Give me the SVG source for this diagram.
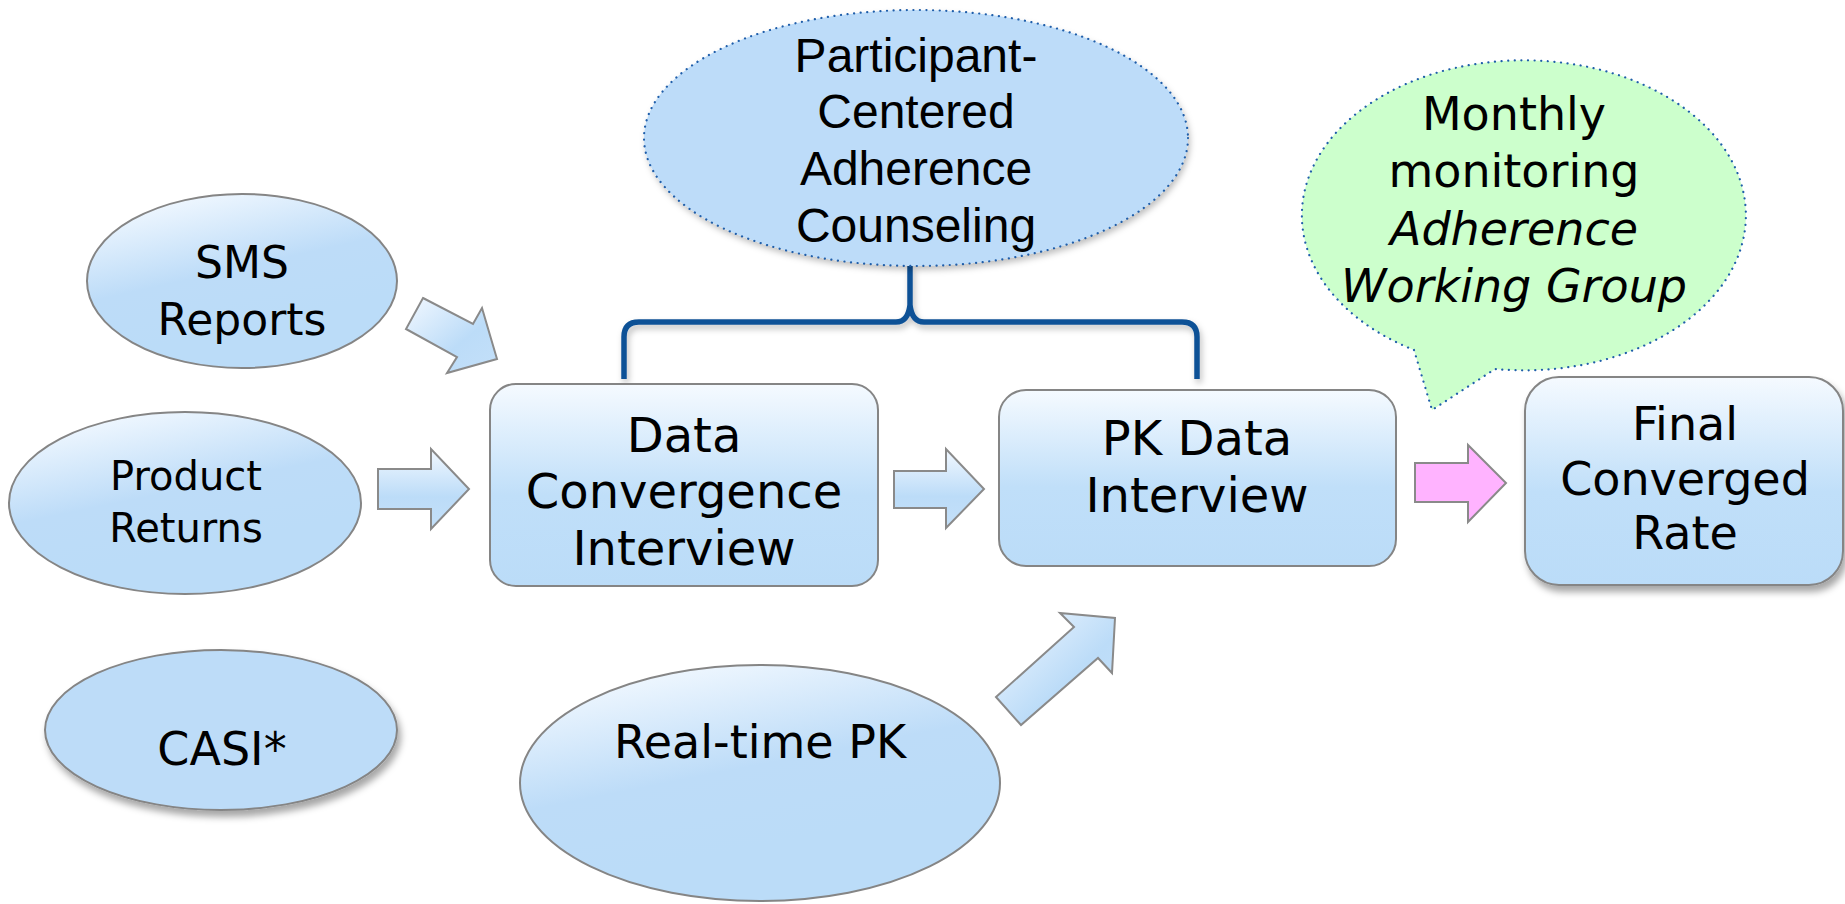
<svg xmlns="http://www.w3.org/2000/svg" width="1845" height="904" viewBox="0 0 1845 904">
  <style>
    .node { stroke: #858585; stroke-width: 2; }
    .lbl { font-family: "DejaVu Sans", "Liberation Sans", sans-serif; fill: #000; text-anchor: middle; }
    .arial { font-family: "Liberation Sans", Arial, sans-serif; fill: #000; text-anchor: middle; }
    .arrow { stroke: #8a8a8a; stroke-width: 2; stroke-linejoin: miter; }
    .dotted { stroke: #1f5eaa; stroke-width: 2.2; stroke-dasharray: 0.1 6.5; stroke-linecap: round; }
  </style>
  <defs>
    <linearGradient id="gBox" x1="0" y1="0" x2="0" y2="1">
      <stop offset="0" stop-color="#f5faff"/>
      <stop offset="0.55" stop-color="#c0dff9"/>
      <stop offset="1" stop-color="#bbdcf8"/>
    </linearGradient>
    <linearGradient id="gEll" x1="0.25" y1="0" x2="0.55" y2="0.75">
      <stop offset="0" stop-color="#f3f9ff"/>
      <stop offset="0.6" stop-color="#bddcf8"/>
      <stop offset="1" stop-color="#bbdcf8"/>
    </linearGradient>
    <linearGradient id="gArrow" x1="0" y1="0" x2="0" y2="1">
      <stop offset="0" stop-color="#f2f8ff"/>
      <stop offset="0.6" stop-color="#bcdcf8"/>
      <stop offset="1" stop-color="#c4e0f9"/>
    </linearGradient>
    <linearGradient id="gArrowDiag" x1="0" y1="0" x2="1" y2="1">
      <stop offset="0" stop-color="#f2f8ff"/>
      <stop offset="0.6" stop-color="#bcdcf8"/>
      <stop offset="1" stop-color="#c4e0f9"/>
    </linearGradient>
    <filter id="shadow" x="-10%" y="-10%" width="125%" height="135%">
      <feDropShadow dx="3" dy="6" stdDeviation="3.5" flood-color="#000" flood-opacity="0.35"/>
    </filter>
    <filter id="softShadow" x="-10%" y="-10%" width="125%" height="135%">
      <feDropShadow dx="2" dy="4" stdDeviation="3" flood-color="#000" flood-opacity="0.25"/>
    </filter>
  </defs>

  <!-- connectors: block arrows and the counseling bracket -->
  <g id="connectors">
    <polygon class="arrow" fill="url(#gArrowDiag)" points="423,298 473,324 482,308 497,359 447,373 457,357 406,329"/>
    <polygon class="arrow" fill="url(#gArrow)" points="378,469 431,469 431,449 469,489 431,529 431,509 378,509"/>
    <polygon class="arrow" fill="url(#gArrow)" points="894,471 946,471 946,449 984,489 946,528 946,508 894,508"/>
    <polygon class="arrow" fill="url(#gArrowDiag)" points="996,697 1074,627 1060,613 1115,618 1112,673 1098,658 1021,725"/>
    <polygon class="arrow" fill="#ffb3ff" points="1415,463 1468,463 1468,445 1506,483 1468,522 1468,502 1415,502"/>
    <path id="bracket" filter="url(#softShadow)" fill="none" stroke="#0d5196" stroke-width="5.5" stroke-linejoin="round"
          d="M624,379 L624,337 Q624,322 639,322 L896,322 Q908,322 910,305 L910,266 M910,305 Q912,322 924,322 L1182,322 Q1197,322 1197,337 L1197,379"/>
  </g>

  <g id="sms">
    <ellipse class="node" fill="url(#gEll)" cx="242" cy="281" rx="155" ry="87"/>
    <text class="lbl" font-size="44" x="242" y="278">SMS</text>
    <text class="lbl" font-size="44" x="242" y="335">Reports</text>
  </g>

  <g id="product-returns">
    <ellipse class="node" fill="url(#gEll)" cx="185" cy="503" rx="176" ry="91"/>
    <text class="lbl" font-size="40" x="186" y="490">Product</text>
    <text class="lbl" font-size="40" x="186" y="542">Returns</text>
  </g>

  <g id="casi">
    <ellipse class="node" fill="#bddcf8" filter="url(#shadow)" cx="221" cy="730" rx="176" ry="80"/>
    <text class="lbl" font-size="46" x="222" y="765">CASI*</text>
  </g>

  <g id="realtime-pk">
    <ellipse class="node" fill="url(#gEll)" cx="760" cy="783" rx="240" ry="118"/>
    <text class="lbl" font-size="46" x="760" y="758">Real-time PK</text>
  </g>

  <g id="data-convergence">
    <rect class="node" fill="url(#gBox)" x="490" y="384" width="388" height="202" rx="26" ry="26"/>
    <text class="lbl" font-size="48" x="684" y="452">Data</text>
    <text class="lbl" font-size="48" x="684" y="508">Convergence</text>
    <text class="lbl" font-size="48" x="684" y="565">Interview</text>
  </g>

  <g id="pk-data">
    <rect class="node" fill="url(#gBox)" x="999" y="390" width="397" height="176" rx="27" ry="27"/>
    <text class="lbl" font-size="48" x="1197" y="455">PK Data</text>
    <text class="lbl" font-size="48" x="1197" y="512">Interview</text>
  </g>

  <g id="final-rate">
    <rect class="node" fill="url(#gBox)" filter="url(#shadow)" x="1525" y="377" width="318" height="208" rx="34" ry="34"/>
    <text class="lbl" font-size="46" x="1685" y="440">Final</text>
    <text class="lbl" font-size="46" x="1685" y="495">Converged</text>
    <text class="lbl" font-size="46" x="1685" y="549">Rate</text>
  </g>

  <g id="counseling">
    <ellipse fill="#bddcf9" filter="url(#softShadow)" cx="916" cy="138" rx="272" ry="128"/>
    <ellipse class="dotted" fill="none" cx="916" cy="138" rx="272" ry="128"/>
    <text class="arial" font-size="48" x="916" y="72">Participant-</text>
    <text class="arial" font-size="48" x="916" y="128">Centered</text>
    <text class="arial" font-size="48" x="916" y="185">Adherence</text>
    <text class="arial" font-size="48" x="916" y="242">Counseling</text>
  </g>

  <g id="monthly-monitoring">
    <path class="dotted" fill="#ccffcc" d="M1414,350 L1432,410 L1495,369 A222,155 0 1 0 1414,350 Z"/>
    <text class="lbl" font-size="46" x="1514" y="130">Monthly</text>
    <text class="lbl" font-size="46" x="1514" y="187">monitoring</text>
    <text class="lbl" font-size="46" font-style="italic" x="1514" y="245">Adherence</text>
    <text class="lbl" font-size="46" font-style="italic" x="1514" y="302">Working Group</text>
  </g>
</svg>
